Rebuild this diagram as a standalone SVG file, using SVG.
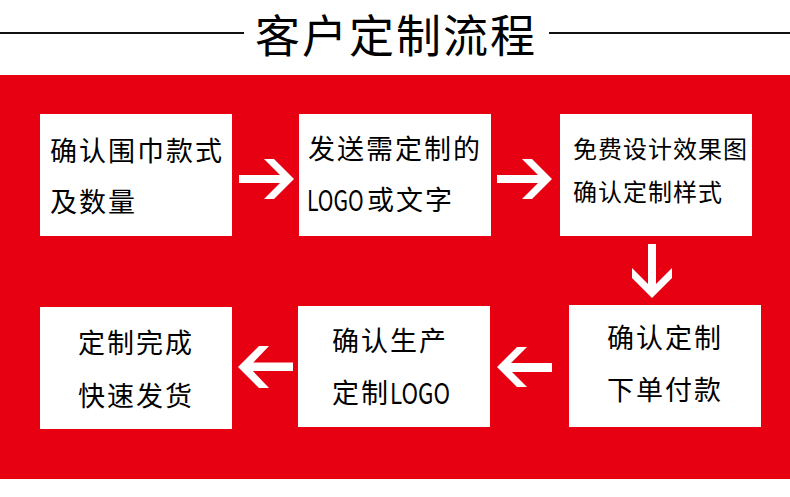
<svg xmlns="http://www.w3.org/2000/svg" width="790" height="497" viewBox="0 0 790 497">
<style>
.bg{fill:#e60012}
.box{fill:#fff}
.t{font-family:"Noto Sans CJK SC","Noto Sans",sans-serif;font-size:27px;letter-spacing:2px;fill:#000}
.s{font-size:24px;letter-spacing:1px}
.lg{font-size:29px;letter-spacing:0}
.title{font-family:"Noto Sans CJK SC","Noto Sans",sans-serif;font-size:45px;letter-spacing:2px;fill:#000}
.rule{stroke:#111;stroke-width:2}
.arrow{fill:#fff}
</style>
<rect width="790" height="497" fill="#fff"/>
<g id="title">
<line class="rule" x1="0" y1="33" x2="244" y2="33"/>
<line class="rule" x1="549" y1="33" x2="790" y2="33"/>
<text class="title" x="255" y="52.5">客户定制流程</text>
</g>
<rect class="bg" x="0" y="75" width="790" height="404"/>
<g id="connectors">
<rect class="arrow" x="239" y="175" width="47" height="8"/>
<polygon class="arrow" points="264,159 274,159 294,179 274,199 264,199 284,179"/>
<rect class="arrow" x="497" y="175" width="47" height="8"/>
<polygon class="arrow" points="522,159 532,159 552,179 532,199 522,199 542,179"/>
<rect class="arrow" x="648" y="244" width="8" height="46"/>
<polygon class="arrow" points="632,268 652,288 672,268 672,278 652,298 632,278"/>
<rect class="arrow" x="505" y="363" width="47" height="9"/>
<polygon class="arrow" points="517,347 527,347 507,367 527,387 517,387 497,367"/>
<rect class="arrow" x="247" y="362.5" width="46" height="8.5"/>
<polygon class="arrow" points="259,346 269,346 249,367 269,388 259,388 238,367"/>
</g>
<g id="n1">
<rect class="box" x="40" y="114" width="192" height="122"/>
<text class="t" x="50" y="161">确认围巾款式</text>
<text class="t" x="50" y="212">及数量</text>
</g>
<g id="n2">
<rect class="box" x="299" y="114" width="192" height="122"/>
<text class="t" x="308" y="159">发送需定制的</text>
<text class="t lg" transform="translate(307 211) scale(0.8 1)" x="0" y="0" textLength="71" lengthAdjust="spacingAndGlyphs">LOGO</text>
<text class="t" x="367" y="210">或文字</text>
</g>
<g id="n3">
<rect class="box" x="560" y="114" width="192" height="122"/>
<text class="t s" x="573" y="158">免费设计效果图</text>
<text class="t s" x="573" y="201">确认定制样式</text>
</g>
<g id="n4">
<rect class="box" x="40" y="307" width="192" height="122"/>
<text class="t" x="78" y="353">定制完成</text>
<text class="t" x="78" y="406">快速发货</text>
</g>
<g id="n5">
<rect class="box" x="298" y="306" width="192" height="121"/>
<text class="t" x="332" y="351">确认生产</text>
<text class="t" x="332" y="403">定制</text>
<text class="t lg" transform="translate(390 404) scale(0.8 1)" x="0" y="0" textLength="75" lengthAdjust="spacingAndGlyphs">LOGO</text>
</g>
<g id="n6">
<rect class="box" x="569" y="305" width="192" height="122"/>
<text class="t" x="607" y="348">确认定制</text>
<text class="t" x="607" y="400">下单付款</text>
</g>
</svg>
